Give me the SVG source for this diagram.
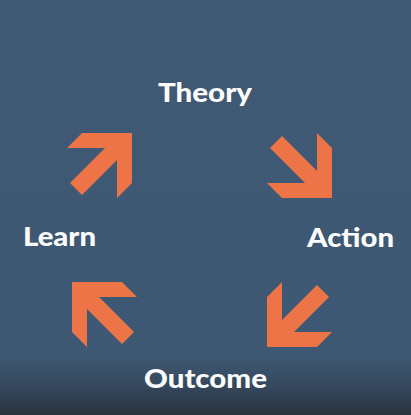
<svg xmlns="http://www.w3.org/2000/svg" xmlns:xlink="http://www.w3.org/1999/xlink" width="411" height="415" viewBox="0 0 411 415">
  <style>
    .label { font-family: Lato, "Open Sans", "Liberation Sans", sans-serif; font-weight: 900; font-size: 26.5px; fill: #fbfbfb; }
    .arrow { fill: #ec7446; }
  </style>
  <defs>
    <linearGradient id="bg" x1="0" y1="0" x2="0" y2="1">
      <stop offset="0" stop-color="#405a75"/>
      <stop offset="0.86" stop-color="#3e5873"/>
      <stop offset="0.93" stop-color="#35485d"/>
      <stop offset="1" stop-color="#29323e"/>
    </linearGradient>
    <path id="arrow" d="M0,0 L0,50 L-15,65 L-15,27 L-50,62 L-62,50 L-27,15 L-65,15 L-50,0 Z"/>
  </defs>
  <rect x="0" y="0" width="411" height="415" fill="url(#bg)"/>
  <g id="connectors" class="arrow">
    <use xlink:href="#arrow" href="#arrow" transform="translate(132,133)"/>
    <use xlink:href="#arrow" href="#arrow" transform="translate(332,198) rotate(90)"/>
    <use xlink:href="#arrow" href="#arrow" transform="translate(267,347) rotate(180)"/>
    <use xlink:href="#arrow" href="#arrow" transform="translate(72,282) rotate(270)"/>
  </g>
  <g id="theory"><text class="label" x="158" y="102" textLength="94" lengthAdjust="spacingAndGlyphs">Theory</text></g>
  <g id="action"><text class="label" x="307" y="246.5" textLength="87" lengthAdjust="spacingAndGlyphs">Action</text></g>
  <g id="outcome"><text class="label" x="144" y="388" textLength="123" lengthAdjust="spacingAndGlyphs">Outcome</text></g>
  <g id="learn"><text class="label" x="23" y="246" textLength="73" lengthAdjust="spacingAndGlyphs">Learn</text></g>
</svg>
